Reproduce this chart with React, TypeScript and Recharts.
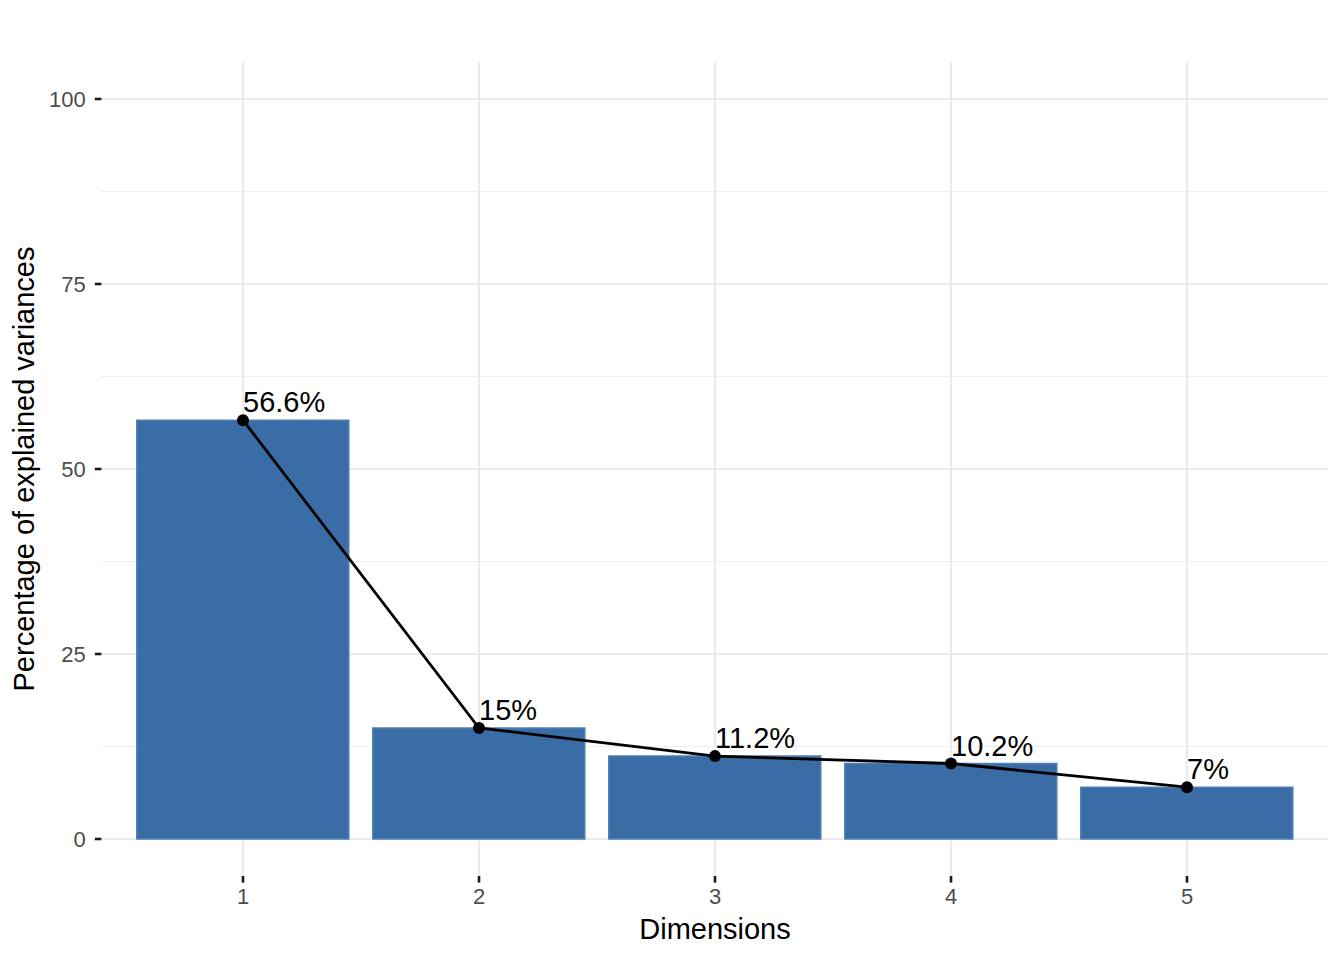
import React from "react";
import {
  ComposedChart,
  Bar,
  Line,
  XAxis,
  YAxis,
  CartesianGrid,
  LabelList,
} from "recharts";

const dimensions = ["1", "2", "3", "4", "5"];
const explainedVariance = [56.6, 15.0, 11.2, 10.2, 7.0];
const yTicks = [0, 25, 50, 75, 100];
const yMinorTicks = [12.5, 37.5, 62.5, 87.5];

const FONT = "'Liberation Sans', Arial, Helvetica, sans-serif";

const data = dimensions.map((d, i) => ({ dim: d, variance: explainedVariance[i] }));

function PointLabel(props: any) {
  const { x, y, value } = props;
  return (
    <text x={x} y={y - 8} fill="#000" fontSize={29} fontFamily={FONT} textAnchor="start">
      {`${value}%`}
    </text>
  );
}

export default function App() {
  return (
    <div style={{ position: "absolute", left: 0, top: 0, width: 1344, height: 960, background: "#fff" }}>
      <ComposedChart
        width={1344}
        height={960}
        data={data}
        margin={{ top: 62, right: 15.4, left: 0, bottom: 0 }}
        barCategoryGap="5%"
        style={{ fontFamily: FONT }}
      >
        {/* minor grid */}
        <CartesianGrid
          vertical={false}
          horizontalValues={yMinorTicks}
          stroke="#EFEFEF"
          strokeWidth={1.2}
        />
        {/* major grid */}
        <CartesianGrid
          horizontalValues={yTicks}
          verticalValues={dimensions}
          stroke="#EBEBEB"
          strokeWidth={2.2}
        />
        <XAxis
          dataKey="dim"
          type="category"
          padding={{ left: 23.6, right: 23.6 }}
          height={84}
          axisLine={false}
          tickLine={{ stroke: "#1A1A1A", strokeWidth: 2.6 }}
          tickSize={6.6}
          tickMargin={6}
          tick={{ fill: "#4D4D4D", fontSize: 22, fontFamily: FONT }}
          label={{
            value: "Dimensions",
            position: "insideBottom",
            offset: 21,
            fill: "#000",
            fontSize: 29,
            fontFamily: FONT,
          }}
        />
        <YAxis
          type="number"
          domain={[-5, 105]}
          ticks={yTicks}
          allowDataOverflow
          width={101.4}
          axisLine={false}
          tickLine={{ stroke: "#1A1A1A", strokeWidth: 2.6 }}
          tickSize={6.6}
          tickMargin={9}
          tick={{ fill: "#4D4D4D", fontSize: 22, fontFamily: FONT }}
          label={{
            value: "Percentage of explained variances",
            angle: -90,
            position: "insideLeft",
            offset: 24,
            fill: "#000",
            fontSize: 29,
            fontFamily: FONT,
            style: { textAnchor: "middle" },
          }}
        />
        <Bar
          dataKey="variance"
          fill="#3A6DA5"
          stroke="#4E80B6"
          strokeWidth={1.5}
          isAnimationActive={false}
        />
        <Line
          type="linear"
          dataKey="variance"
          stroke="#000"
          strokeWidth={2.8}
          dot={{ r: 6, fill: "#000", stroke: "none" }}
          activeDot={false}
          isAnimationActive={false}
        >
          <LabelList dataKey="variance" content={<PointLabel />} />
        </Line>
      </ComposedChart>
    </div>
  );
}
